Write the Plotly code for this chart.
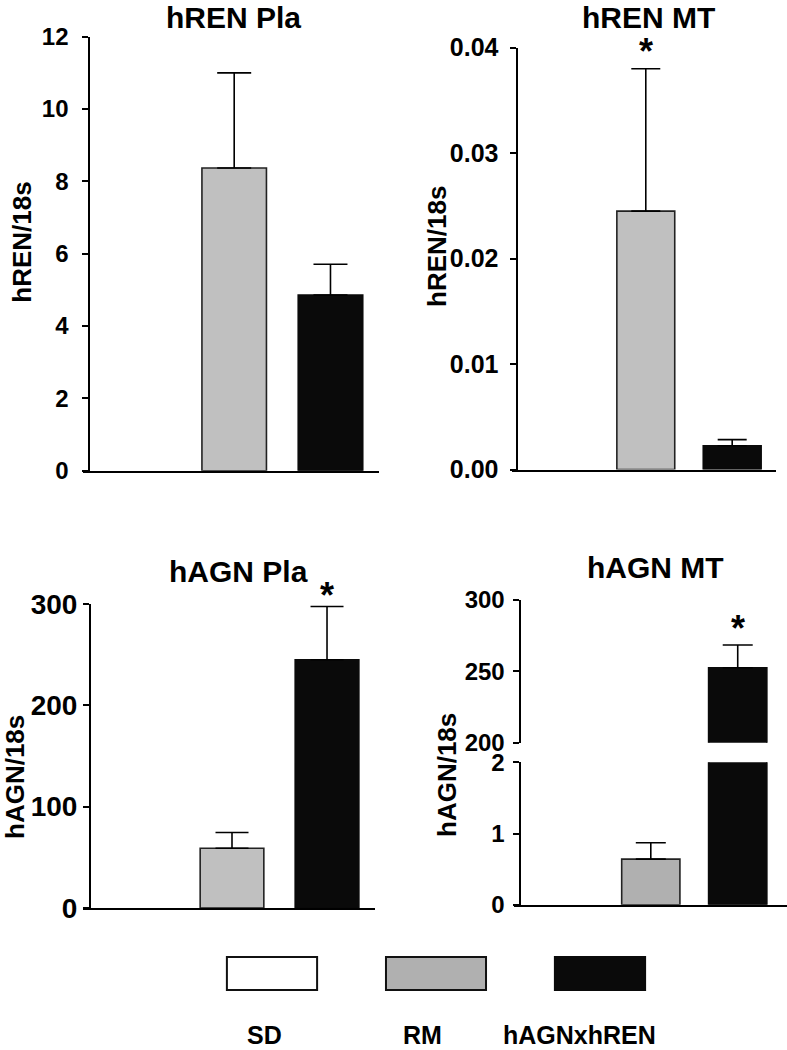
import plotly.graph_objects as go

W, H = 787, 1050

# ---------------- data ----------------
groups = ["SD", "RM", "hAGNxhREN"]

hren_pla = [0, 8.37, 4.86]
hren_pla_err = [0, 2.63, 0.85]

hren_mt = [0, 0.0245, 0.00225]
hren_mt_err = [0, 0.0135, 0.00058]

hagn_pla = [0, 59, 245]
hagn_pla_err = [0, 15.5, 52.5]

hagn_mt = [0, 0.64, 252.5]
hagn_mt_err = [0, 0.23, 16]

titles = ["hREN Pla", "hREN MT", "hAGN Pla", "hAGN MT"]
ytitles = ["hREN/18s", "hREN/18s", "hAGN/18s", "hAGN/18s"]

GRAY = "#c0c0c0"
GRAY2 = "#b0b0b0"
BLACK = "#0a0a0a"
FONT = "Liberation Sans, Arial, sans-serif"


def fx(px):
    return px / W


def fy(py):
    return 1 - py / H


fig = go.Figure()


def bars(x_ax, y_ax, vals, errs, gray, capw, width=0.67):
    # SD group (no visible bar / no error bar)
    fig.add_trace(go.Bar(
        x=[0], y=[vals[0]], width=width, xaxis=x_ax, yaxis=y_ax,
        marker=dict(color="rgba(255,255,255,0)", line=dict(width=0)),
        showlegend=False, hoverinfo="skip",
    ))
    # RM and hAGNxhREN groups with upward error bars
    fig.add_trace(go.Bar(
        x=[1, 2], y=vals[1:], width=width,
        xaxis=x_ax, yaxis=y_ax,
        marker=dict(color=[gray, BLACK],
                    line=dict(color=["#222222", BLACK], width=1.6)),
        error_y=dict(type="data", array=errs[1:], arrayminus=[0, 0],
                     symmetric=False, color="black", thickness=1.6, width=capw),
        showlegend=False, hoverinfo="skip",
    ))


bars("x", "y", hren_pla, hren_pla_err, GRAY, 17)
bars("x2", "y2", hren_mt, hren_mt_err, GRAY, 14.5)
bars("x3", "y3", hagn_pla, hagn_pla_err, GRAY, 16.5)
bars("x4", "y4", hagn_mt, hagn_mt_err, GRAY2, 15)
bars("x4", "y5", hagn_mt, hagn_mt_err, GRAY2, 15)

# legend boxes as a small bar subplot
fig.add_trace(go.Bar(
    x=[0, 1, 2], y=[1, 1, 1], width=[0.55, 0.61, 0.55], xaxis="x6", yaxis="y6",
    marker=dict(color=["white", GRAY2, BLACK],
                line=dict(color=["#111111", "#111111", BLACK], width=2)),
    showlegend=False, hoverinfo="skip",
))


def tf(size):
    return dict(family=FONT, size=size, color="black", weight="bold")


axline = dict(showline=True, linecolor="black", linewidth=2, zeroline=False,
              showgrid=False)
yax = dict(axline, ticks="outside", ticklen=6, tickwidth=2, tickcolor="black",
           anchor="free", fixedrange=True)
xax = dict(axline, showticklabels=False, ticks="", fixedrange=True)

fig.update_layout(
    width=W, height=H,
    margin=dict(l=0, r=0, t=0, b=0, pad=0, autoexpand=False),
    paper_bgcolor="white", plot_bgcolor="rgba(0,0,0,0)",
    font=dict(family=FONT, color="black"),
    bargap=0,
    xaxis=dict(xax, domain=[fx(83.3), fx(379.3)], range=[-0.567, 2.507], anchor="y"),
    yaxis=dict(yax, domain=[fy(470.7), fy(36.7)], range=[0, 12], dtick=2,
               position=fx(89.3), ticklabelstandoff=9, tickfont=tf(24)),
    xaxis2=dict(xax, domain=[fx(511.7), fx(776)], range=[-0.552, 2.507], anchor="y2"),
    yaxis2=dict(yax, domain=[fy(469.5), fy(47.7)], range=[0, 0.04], dtick=0.01,
                tickformat=".2f", position=fx(516.5), ticklabelstandoff=6, tickfont=tf(25)),
    xaxis3=dict(xax, domain=[fx(83.3), fx(375)], range=[-0.565, 2.505], anchor="y3"),
    yaxis3=dict(yax, domain=[fy(908), fy(604)], range=[0, 300], dtick=100,
                position=fx(90), ticklabelstandoff=0, tickfont=tf(28)),
    xaxis4=dict(xax, domain=[fx(514), 1.0], range=[-0.574, 2.567], anchor="y4"),
    yaxis4=dict(yax, domain=[fy(904.7), fy(762.3)], range=[0, 2], dtick=1,
                position=fx(519.5), ticklabelstandoff=3, tickfont=tf(24)),
    yaxis5=dict(yax, domain=[fy(742.7), fy(600)], range=[200, 300], dtick=50,
                position=fx(519.5), ticklabelstandoff=3, tickfont=tf(24)),
    xaxis6=dict(domain=[fx(190), fx(682)], range=[-0.5, 2.5], anchor="y6",
                visible=False, fixedrange=True),
    yaxis6=dict(domain=[fy(991), fy(956)], range=[-0.03, 1.03], anchor="x6",
                visible=False, fixedrange=True),
)

ann = []
title_pos = [(233, 18), (648, 17), (238, 571), (655, 567)]
for t, (px, py) in zip(titles, title_pos):
    ann.append(dict(text=f"<b>{t}</b>", x=fx(px), y=fy(py), xref="paper", yref="paper",
                    xanchor="center", yanchor="middle", showarrow=False,
                    font=dict(family=FONT, size=30, color="black")))
ytitle_pos = [(21.7, 242), (437, 247), (15, 777), (447, 775)]
for t, (px, py) in zip(ytitles, ytitle_pos):
    ann.append(dict(text=f"<b>{t}</b>", x=fx(px), y=fy(py), xref="paper", yref="paper",
                    xanchor="center", yanchor="middle", showarrow=False, textangle=-90,
                    font=dict(family=FONT, size=26, color="black")))

# legend labels
legend_label_x = [264, 422, 579]
for t, px in zip(groups, legend_label_x):
    ann.append(dict(text=f"<b>{t}</b>", x=fx(px), y=fy(1035), xref="paper", yref="paper",
                    xanchor="center", yanchor="middle", showarrow=False, borderpad=0,
                    font=dict(family=FONT, size=25, color="black")))

# significance stars
stars = [("x2", "y2", 1, hren_mt[1] + hren_mt_err[1], -5),
         ("x3", "y3", 2, hagn_pla[2] + hagn_pla_err[2], -11),
         ("x4", "y5", 2, hagn_mt[2] + hagn_mt_err[2], -6)]
for xr, yr, xi, yv, ys in stars:
    ann.append(dict(text="<b>*</b>", x=xi, y=yv, xref=xr, yref=yr,
                    xanchor="center", yanchor="bottom", yshift=ys, showarrow=False,
                    font=dict(family=FONT, size=36, color="black")))

fig.update_layout(annotations=ann)

fig.write_html(
    "out.html",
    config={"displayModeBar": False, "staticPlot": True},
    post_script="document.body.style.margin='0';document.body.style.padding='0';"
                "document.documentElement.style.overflow='hidden';",
)
